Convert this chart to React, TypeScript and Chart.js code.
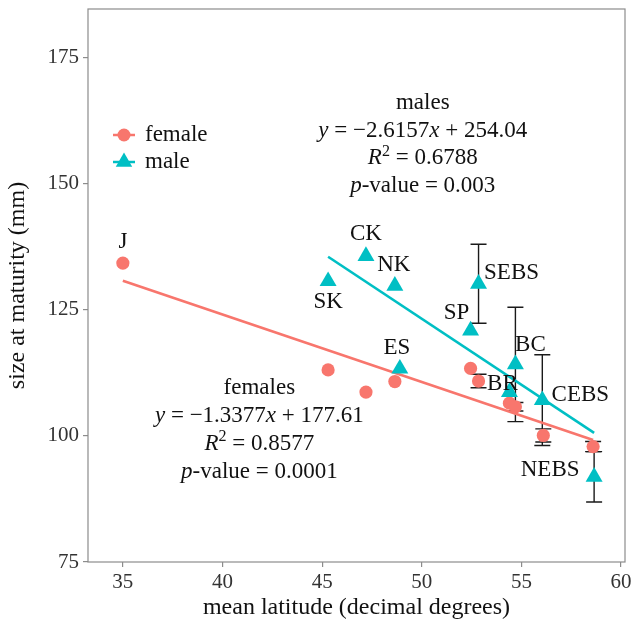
import React, { useEffect, useRef } from 'react';
import { Chart, registerables } from 'chart.js';
Chart.register(...registerables);

const FAMILY = '"Liberation Serif", "DejaVu Serif", serif';
const RED = '#F8766D';
const CYAN = '#00BFC4';

// Female data
const femaleSite = ['J', 'SK', 'CK', 'NK', 'SP', 'SEBS', 'BR', 'BC', 'CEBS', 'NEBS'];
const femaleLat = [35.0, 45.3, 47.2, 48.65, 52.45, 52.85, 54.4, 54.7, 56.1, 58.6];
const femaleSize = [134.3, 113.1, 108.7, 110.8, 113.4, 110.9, 106.5, 105.8, 100.1, 97.9];
const femaleErr = [0, 0, 0, 0, 0, 1.33, 0, 0.85, 1.3, 1.0];

// Male data
const maleSite = ['SK', 'CK', 'NK', 'ES', 'SP', 'SEBS', 'BR', 'BC', 'CEBS', 'NEBS'];
const maleLat = [45.3, 47.2, 48.65, 48.9, 52.45, 52.85, 54.4, 54.7, 56.05, 58.65];
const maleSize = [130.7, 135.7, 129.8, 113.35, 120.9, 130.2, 108.7, 114.2, 107.1, 91.9];
const maleErr = [0, 0, 0, 0, 0, 7.84, 0, 11.35, 9.0, 5.0];

// Fitted regression line end points
const femaleFitLat = [35.0, 58.6];
const femaleFitSize = [130.79, 99.22];
const maleFitLat = [45.3, 58.65];
const maleFitSize = [135.55, 100.63];

// Axis ticks
const xTicks = [35, 40, 45, 50, 55, 60];
const yTicks = [75, 100, 125, 150, 175];

// Point label placement (pixel offsets from the point)
const femaleLabelShown = ['J'];
const labelOffsets: Record<string, [number, number]> = {
  J: [0, -21], SK: [0, 21], CK: [0, -22], NK: [-1, -21], ES: [-3, -21],
  SP: [-14, -18], SEBS: [33, -11], BR: [-7, -8], BC: [15, -19], CEBS: [38, -5], NEBS: [-44, -7],
};

type Seg = { t: string; it?: boolean; sup?: boolean };
const maleStats: Seg[][] = [
  [{ t: 'males' }],
  [{ t: 'y', it: true }, { t: ' = −2.6157' }, { t: 'x', it: true }, { t: ' + 254.04' }],
  [{ t: 'R', it: true }, { t: '2', sup: true }, { t: ' = 0.6788' }],
  [{ t: 'p', it: true }, { t: '-value = 0.003' }],
];
const femaleStats: Seg[][] = [
  [{ t: 'females' }],
  [{ t: 'y', it: true }, { t: ' = −1.3377' }, { t: 'x', it: true }, { t: ' + 177.61' }],
  [{ t: 'R', it: true }, { t: '2', sup: true }, { t: ' = 0.8577' }],
  [{ t: 'p', it: true }, { t: '-value = 0.0001' }],
];
const maleStatsAnchor = [50.05, 166.1];
const femaleStatsAnchor = [41.85, 109.5];

function drawRich(ctx: CanvasRenderingContext2D, segs: Seg[], cx: number, cy: number, size: number) {
  const parts = segs.map((s) => {
    const fs = s.sup ? size * 0.7 : size;
    const font = `${s.it ? 'italic ' : ''}${fs}px ${FAMILY}`;
    ctx.font = font;
    return { ...s, font, w: ctx.measureText(s.t).width };
  });
  const total = parts.reduce((a, p) => a + p.w, 0);
  let x = cx - total / 2;
  ctx.textAlign = 'left';
  ctx.textBaseline = 'middle';
  for (const p of parts) {
    ctx.font = p.font;
    ctx.fillText(p.t, x, cy + (p.sup ? -size * 0.3 : 0));
    x += p.w;
  }
}

const overlay = {
  id: 'overlay',
  beforeDatasetsDraw(chart: any) {
    const { ctx, scales } = chart;
    const xs = scales.x, ys = scales.y;
    ctx.save();
    ctx.strokeStyle = '#1a1a1a';
    ctx.lineWidth = 1.4;
    const bars = (lat: number[], size: number[], err: number[]) => {
      lat.forEach((la, i) => {
        if (!err[i]) return;
        const px = xs.getPixelForValue(la);
        const y1 = ys.getPixelForValue(size[i] - err[i]);
        const y2 = ys.getPixelForValue(size[i] + err[i]);
        ctx.beginPath();
        ctx.moveTo(px, y1); ctx.lineTo(px, y2);
        ctx.moveTo(px - 8, y1); ctx.lineTo(px + 8, y1);
        ctx.moveTo(px - 8, y2); ctx.lineTo(px + 8, y2);
        ctx.stroke();
      });
    };
    bars(maleLat, maleSize, maleErr);
    bars(femaleLat, femaleSize, femaleErr);
    ctx.restore();
  },
  afterDatasetsDraw(chart: any) {
    const { ctx, scales, chartArea } = chart;
    const xs = scales.x, ys = scales.y;
    ctx.save();
    // panel border
    ctx.strokeStyle = '#8c8c8c';
    ctx.lineWidth = 1.2;
    ctx.strokeRect(chartArea.left, chartArea.top, chartArea.right - chartArea.left, chartArea.bottom - chartArea.top);
    // labels
    ctx.fillStyle = '#111';
    ctx.font = `23px ${FAMILY}`;
    ctx.textAlign = 'center';
    ctx.textBaseline = 'middle';
    femaleSite.forEach((s, i) => {
      if (!femaleLabelShown.includes(s)) return;
      const o = labelOffsets[s];
      ctx.fillText(s, xs.getPixelForValue(femaleLat[i]) + o[0], ys.getPixelForValue(femaleSize[i]) + o[1]);
    });
    maleSite.forEach((s, i) => {
      const o = labelOffsets[s];
      ctx.fillText(s, xs.getPixelForValue(maleLat[i]) + o[0], ys.getPixelForValue(maleSize[i]) + o[1]);
    });
    // stats
    const block = (lines: Seg[][], anchor: number[]) => {
      const cx = xs.getPixelForValue(anchor[0]);
      const cy = ys.getPixelForValue(anchor[1]);
      lines.forEach((l, i) => drawRich(ctx, l, cx, cy + i * 27.8, 23));
    };
    block(maleStats, maleStatsAnchor);
    block(femaleStats, femaleStatsAnchor);
    // legend
    const lx = 124, tx = 145;
    const rows: [string, string, number][] = [['female', RED, 135], ['male', CYAN, 162]];
    rows.forEach(([name, col, y], k) => {
      ctx.strokeStyle = col;
      ctx.lineWidth = 2.5;
      ctx.beginPath(); ctx.moveTo(lx - 11, y); ctx.lineTo(lx + 11, y); ctx.stroke();
      ctx.fillStyle = col;
      ctx.beginPath();
      if (k === 0) {
        ctx.arc(lx, y, 6.5, 0, Math.PI * 2);
      } else {
        const r = 9.5;
        ctx.moveTo(lx, y - r);
        ctx.lineTo(lx + r * Math.sin(2 * Math.PI / 3), y + r * 0.5);
        ctx.lineTo(lx - r * Math.sin(2 * Math.PI / 3), y + r * 0.5);
        ctx.closePath();
      }
      ctx.fill();
      ctx.fillStyle = '#111';
      ctx.font = `23px ${FAMILY}`;
      ctx.textAlign = 'left';
      ctx.textBaseline = 'middle';
      ctx.fillText(name, tx, y);
    });
    ctx.restore();
  },
};

export default function App() {
  const ref = useRef<HTMLCanvasElement>(null);
  useEffect(() => {
    if (!ref.current) return;
    const pts = (lat: number[], size: number[]) => lat.map((x, i) => ({ x, y: size[i] }));
    const chart = new Chart(ref.current, {
      type: 'scatter',
      data: {
        datasets: [
          {
            label: 'male', data: pts(maleLat, maleSize), pointStyle: 'triangle', pointRadius: 9.8,
            backgroundColor: CYAN, borderColor: CYAN, borderWidth: 0,
          },
          {
            label: 'female', data: pts(femaleLat, femaleSize), pointStyle: 'circle', pointRadius: 6.6,
            backgroundColor: RED, borderColor: RED, borderWidth: 0,
          },
          {
            type: 'line', label: 'male fit', data: pts(maleFitLat, maleFitSize), borderColor: CYAN,
            borderWidth: 2.6, pointRadius: 0, showLine: true, fill: false,
          } as any,
          {
            type: 'line', label: 'female fit', data: pts(femaleFitLat, femaleFitSize), borderColor: RED,
            borderWidth: 2.6, pointRadius: 0, showLine: true, fill: false,
          } as any,
        ],
      },
      options: {
        responsive: false,
        animation: false,
        events: [],
        layout: { autoPadding: false, padding: { top: 9, right: 7, left: 0, bottom: 0 } },
        plugins: { legend: { display: false }, tooltip: { enabled: false } },
        scales: {
          x: {
            type: 'linear', min: 33.25, max: 60.2,
            afterBuildTicks: (s: any) => { s.ticks = xTicks.map((v) => ({ value: v })); },
            ticks: { font: { family: FAMILY, size: 21 }, color: '#333', padding: 3 },
            grid: { drawOnChartArea: false, drawTicks: true, tickLength: 5, color: '#8c8c8c', lineWidth: 1.2 },
            border: { display: false },
            title: {
              display: true, text: 'mean latitude (decimal degrees)', color: '#111',
              font: { family: FAMILY, size: 24 }, padding: { top: 0, bottom: 1 },
            },
            afterFit: (s: any) => { s.height = 61; s.paddingLeft = 0; s.paddingRight = 0; },
          },
          y: {
            type: 'linear', min: 75, max: 184.7,
            afterBuildTicks: (s: any) => { s.ticks = yTicks.map((v) => ({ value: v })); },
            ticks: { font: { family: FAMILY, size: 21 }, color: '#333', padding: 4 },
            grid: { drawOnChartArea: false, drawTicks: true, tickLength: 5, color: '#8c8c8c', lineWidth: 1.2 },
            border: { display: false },
            title: {
              display: true, text: 'size at maturity (mm)', color: '#111',
              font: { family: FAMILY, size: 24 }, padding: { top: 3, bottom: 0 },
            },
            afterFit: (s: any) => { s.width = 88; s.paddingTop = 0; s.paddingBottom = 0; },
          },
        },
      },
      plugins: [overlay],
    });
    return () => chart.destroy();
  }, []);
  return (
    <div style={{ position: 'absolute', left: 0, top: 0, width: 632, height: 623, background: '#fff' }}>
      <canvas ref={ref} width={632} height={623} />
    </div>
  );
}
